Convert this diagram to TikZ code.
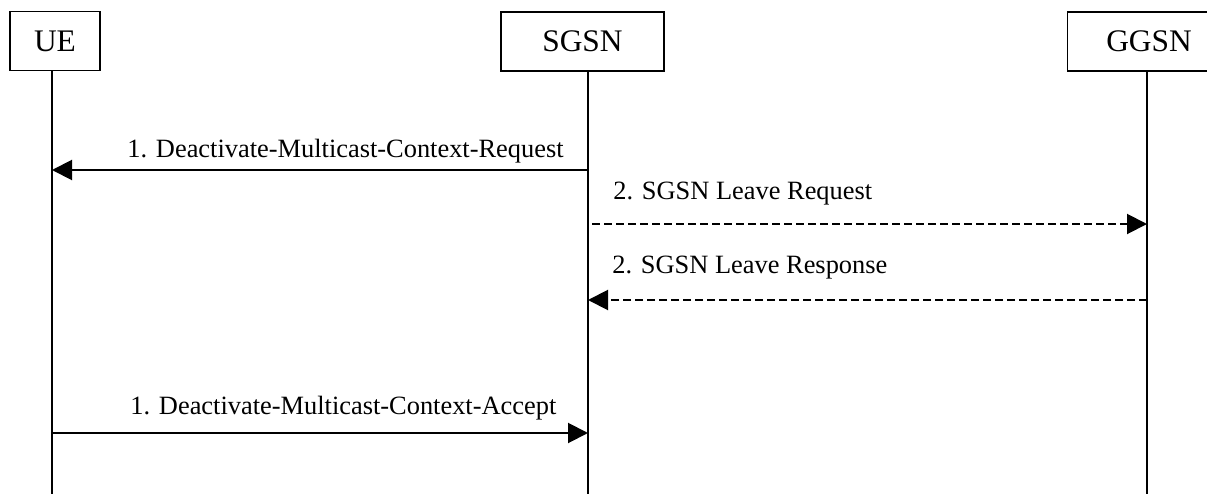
\documentclass[tikz,border=0pt]{standalone}
\usepackage{fontspec}
\setmainfont{Liberation Serif}
\usetikzlibrary{arrows.meta, positioning}

\begin{document}
\begin{tikzpicture}[
    x=0.5pt, y=-0.5pt,
    entity/.style={draw, line width=0.8pt, inner sep=0pt, minimum height=29.5pt, font=\fontsize{15.7}{18}\selectfont},
    lifeline/.style={line width=1pt},
    msg/.style={-{Triangle[length=10pt, width=10pt]}, line width=1pt},
    msgdash/.style={msg, dash pattern=on 4pt off 2pt},
    msglabel/.style={anchor=base west, inner sep=0pt, font=\fontsize{13.2}{16}\selectfont}
]
\useasboundingbox (0,0) rectangle (1207,498);

% entities
\node[entity, minimum width=45pt] (ue) at (55,41) {UE};
\node[entity, minimum width=81.5pt] (sgsn) at (582.5,41.5) {SGSN};
\node[entity, minimum width=81.5pt] (ggsn) at (1149,41.5) {GGSN};

% lifelines
\coordinate (ue top) at (52,70);
\coordinate (ue bot) at (52,494);
\coordinate (sgsn top) at (588,71);
\coordinate (sgsn bot) at (588,494);
\coordinate (ggsn top) at (1147,71);
\coordinate (ggsn bot) at (1147,494);
\draw[lifeline] (ue top) -- (ue bot);
\draw[lifeline] (sgsn top) -- (sgsn bot);
\draw[lifeline] (ggsn top) -- (ggsn bot);

% message end points
\coordinate (sgsn m1) at (588,170);
\coordinate (ue m1) at (52,170);
\coordinate (sgsn m2) at (592,224);
\coordinate (ggsn m2) at (1147,224);
\coordinate (ggsn m3) at (1147,300);
\coordinate (sgsn m3) at (588,300);
\coordinate (ue m4) at (52,433);
\coordinate (sgsn m4) at (588,433);

% messages
\draw[msg] (sgsn m1) -- (ue m1);
\node[msglabel] (l1) at (127,157) {1. Deactivate-Multicast-Context-Request};
\draw[msgdash] (sgsn m2) -- (ggsn m2);
\node[msglabel] (l2) at (613,199) {2. SGSN Leave Request};
\draw[msgdash] (ggsn m3) -- (sgsn m3);
\node[msglabel] (l3) at (612,273) {2. SGSN Leave Response};
\draw[msg] (ue m4) -- (sgsn m4);
\node[msglabel] (l4) at (130,414) {1. Deactivate-Multicast-Context-Accept};
\end{tikzpicture}
\end{document}
